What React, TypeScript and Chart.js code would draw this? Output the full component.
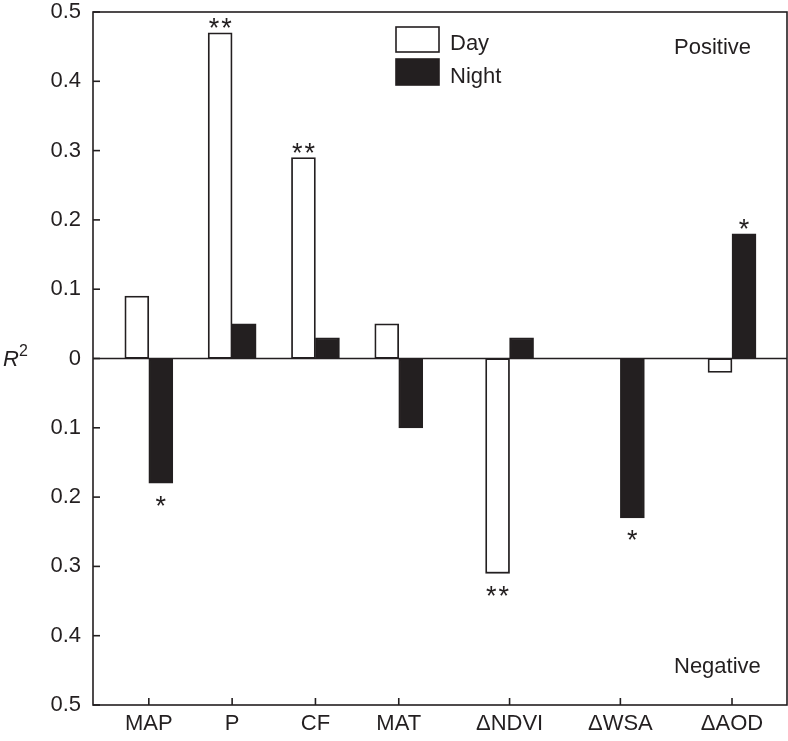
import { useEffect, useRef } from 'react';
import { Chart, registerables } from 'chart.js';

Chart.register(...registerables);

const categories = ['MAP', 'P', 'CF', 'MAT', 'ΔNDVI', 'ΔWSA', 'ΔAOD'];
const categoryPositions = [0.67, 1.67, 2.67, 3.67, 5.0, 6.33, 7.67];
const dayValues = [0.09, 0.47, 0.29, 0.05, -0.31, null, -0.02];
const nightValues = [-0.18, 0.05, 0.03, -0.1, 0.03, -0.23, 0.18];
const daySignificance = ['', '**', '**', '', '**', '', ''];
const nightSignificance = ['*', '', '', '', '', '*', '*'];
const yTickValues = [-0.5, -0.4, -0.3, -0.2, -0.1, 0, 0.1, 0.2, 0.3, 0.4, 0.5];

const FONT = '"Liberation Sans", Arial, Helvetica, sans-serif';
const INK = '#231f20';

const overlay = {
  id: 'overlay',
  afterDatasetsDraw(chart: any) {
    const { ctx, chartArea: a, scales } = chart;
    const x = scales.x;
    const y = scales.y;
    ctx.save();
    ctx.strokeStyle = INK;
    ctx.lineWidth = 1.6;
    // frame
    ctx.strokeRect(a.left, a.top, a.right - a.left, a.bottom - a.top);
    // zero line
    const y0 = y.getPixelForValue(0);
    ctx.beginPath();
    ctx.moveTo(a.left, y0);
    ctx.lineTo(a.right, y0);
    ctx.stroke();
    // inward y ticks
    yTickValues.forEach((v) => {
      const py = y.getPixelForValue(v);
      ctx.beginPath();
      ctx.moveTo(a.left, py);
      ctx.lineTo(a.left + 7, py);
      ctx.stroke();
    });
    // inward x ticks
    categoryPositions.forEach((v) => {
      const px = x.getPixelForValue(v);
      ctx.beginPath();
      ctx.moveTo(px, a.bottom);
      ctx.lineTo(px, a.bottom - 7);
      ctx.stroke();
    });
    // significance asterisks
    ctx.fillStyle = INK;
    ctx.font = `27px ${FONT}`;
    ctx.textAlign = 'center';
    ctx.textBaseline = 'alphabetic';
    const sigs = [daySignificance, nightSignificance];
    const vals = [dayValues, nightValues];
    [0, 1].forEach((d) => {
      const meta = chart.getDatasetMeta(d);
      meta.data.forEach((bar: any, i: number) => {
        const s = sigs[d][i];
        const v = vals[d][i];
        if (!s || v == null) return;
        const center = v >= 0 ? bar.y - 11 : bar.y + 16;
        const n = s.length;
        for (let k = 0; k < n; k++) {
          ctx.fillText('*', bar.x + (k - (n - 1) / 2) * 12.5, center + 15.5);
        }
      });
    });
    // legend
    const lx = a.left + 303;
    ctx.lineWidth = 1.6;
    ctx.fillStyle = '#ffffff';
    ctx.fillRect(lx, a.top + 15, 43, 25);
    ctx.strokeRect(lx, a.top + 15, 43, 25);
    ctx.fillStyle = INK;
    ctx.fillRect(lx, a.top + 47, 43, 26);
    ctx.strokeRect(lx, a.top + 47, 43, 26);
    ctx.textAlign = 'left';
    ctx.font = `22px ${FONT}`;
    ctx.fillText('Day', lx + 54, a.top + 38);
    ctx.fillText('Night', lx + 54, a.top + 71);
    // Positive / Negative
    ctx.fillText('Positive', a.left + 581, a.top + 42);
    ctx.fillText('Negative', a.left + 581, a.bottom - 32);
    // y-axis title R^2
    ctx.font = `italic 22px ${FONT}`;
    ctx.fillText('R', 3, y0 + 7);
    ctx.font = `16px ${FONT}`;
    ctx.fillText('2', 19, y0 - 3);
    ctx.restore();
  },
};

export default function App() {
  const ref = useRef<HTMLCanvasElement | null>(null);
  useEffect(() => {
    document.body.style.margin = '0';
    if (!ref.current) return;
    const chart = new Chart(ref.current, {
      type: 'bar',
      data: {
        datasets: [
          {
            label: 'Day',
            data: categoryPositions.map((p, i) => ({ x: p, y: dayValues[i] })) as any,
            backgroundColor: '#ffffff',
            borderColor: INK,
            borderWidth: 1.8,
            borderSkipped: false,
            barThickness: 24,
          },
          {
            label: 'Night',
            data: categoryPositions.map((p, i) => ({ x: p, y: nightValues[i] })) as any,
            backgroundColor: INK,
            borderColor: INK,
            borderWidth: 1.8,
            borderSkipped: false,
            barThickness: 24,
          },
        ],
      },
      options: {
        animation: false,
        responsive: true,
        maintainAspectRatio: false,
        layout: { padding: { top: 0, right: 1, left: 0, bottom: 0 } },
        plugins: { legend: { display: false }, tooltip: { enabled: false } },
        scales: {
          x: {
            type: 'linear',
            min: 0,
            max: 8.33,
            offset: false,
            grid: { display: false, drawTicks: false, offset: false },
            border: { display: false },
            afterBuildTicks: (s: any) => {
              s.ticks = categoryPositions.map((v) => ({ value: v }));
            },
            ticks: {
              autoSkip: false,
              maxRotation: 0,
              padding: 6,
              color: INK,
              font: { size: 22, family: FONT },
              callback: (_v: any, i: number) => categories[i],
            },
            afterFit: (s: any) => {
              s.height = 36;
              s.paddingLeft = 0;
              s.paddingRight = 0;
            },
          },
          y: {
            min: -0.5,
            max: 0.5,
            grid: { display: false, drawTicks: false },
            border: { display: false },
            afterBuildTicks: (s: any) => {
              s.ticks = yTickValues.map((v) => ({ value: v }));
            },
            ticks: {
              padding: 12,
              color: INK,
              font: { size: 22, family: FONT },
              callback: (v: any) => {
                const n = Math.abs(Number(v));
                return n < 1e-9 ? '0' : n.toFixed(1);
              },
            },
            afterFit: (s: any) => {
              s.width = 93;
              s.paddingTop = 12;
              s.paddingBottom = 0;
            },
          },
        },
      },
      plugins: [overlay],
    });
    return () => chart.destroy();
  }, []);
  return (
    <div style={{ width: 788, height: 741, position: 'relative' }}>
      <canvas ref={ref} />
    </div>
  );
}
